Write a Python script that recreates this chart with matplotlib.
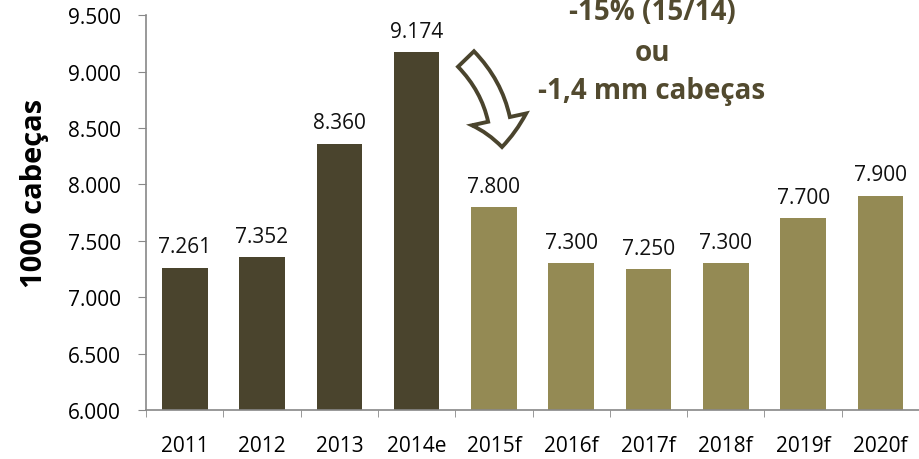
import matplotlib.pyplot as plt
from matplotlib.patches import FancyArrowPatch
import numpy as np

plt.rcParams['font.family'] = ['Open Sans', 'DejaVu Sans']

categories = ['2011', '2012', '2013', '2014e', '2015f', '2016f', '2017f', '2018f', '2019f', '2020f']
values = [7261, 7352, 8360, 9174, 7800, 7300, 7250, 7300, 7700, 7900]
labels = ['7.261', '7.352', '8.360', '9.174', '7.800', '7.300', '7.250', '7.300', '7.700', '7.900']
yticks = [6000, 6500, 7000, 7500, 8000, 8500, 9000, 9500]
ytick_labels = ['6.000', '6.500', '7.000', '7.500', '8.000', '8.500', '9.000', '9.500']

dark = '#4a442d'
light = '#948a54'
colors = [dark] * 4 + [light] * 6

fig = plt.figure(figsize=(9.19, 4.6), dpi=100)
ax = fig.add_axes([0.159, 0.1065, 0.841, 0.8585])

x = np.arange(len(categories))
ax.bar(x, values, width=0.59, color=colors, zorder=2)
for xi, v, lab in zip(x, values, labels):
    ax.annotate(lab, (xi, v), xytext=(0, 11), textcoords='offset points',
                ha='center', va='baseline', fontsize=15, color='#111111')

ax.set_ylim(6000, 9500)
ax.set_xlim(-0.5, len(categories) - 0.5)
ax.set_yticks(yticks)
ax.set_yticklabels(ytick_labels, fontsize=15)
ax.set_xticks(x)
ax.set_xticklabels(categories, fontsize=15)
ax.set_xticks(np.arange(-0.5, len(categories)), minor=True)
ax.tick_params(axis='x', which='major', length=0, pad=18)
ax.tick_params(axis='x', which='minor', length=5, color='#888888', direction='out')
ax.tick_params(axis='y', length=6, color='#888888', direction='out', pad=12)
ax.set_ylabel('1000 cabeças', fontsize=21, fontweight='bold')
ax.yaxis.set_label_coords(-0.126, 0.55)

for s in ['top', 'right']:
    ax.spines[s].set_visible(False)
for s in ['left', 'bottom']:
    ax.spines[s].set_color('#888888')
    ax.spines[s].set_linewidth(1.2)

# curved arrow 2014 -> 2015
W, H = 919, 460
arrow = FancyArrowPatch((466 / W, 1 - 60 / H), (502 / W, 1 - 148 / H),
                        transform=fig.transFigure,
                        connectionstyle='arc3,rad=-0.2',
                        arrowstyle='simple,head_width=4.0,head_length=2.0,tail_width=1.6',
                        mutation_scale=10, shrinkA=0, shrinkB=0,
                        facecolor='white', edgecolor=dark, linewidth=2.8,
                        joinstyle='miter', zorder=3)
fig.add_artist(arrow)

ann_color = '#524a2f'
fig.text(0.7095, 1 - 20 / H, '-15% (15/14)', ha='center', va='baseline', fontsize=20,
         fontweight='bold', color=ann_color)
fig.text(0.7095, 1 - 61 / H, 'ou', ha='center', va='baseline', fontsize=20,
         fontweight='bold', color=ann_color)
fig.text(0.7095, 1 - 99 / H, '-1,4 mm cabeças', ha='center', va='baseline', fontsize=20,
         fontweight='bold', color=ann_color)

fig.savefig('out.png', dpi=100)
